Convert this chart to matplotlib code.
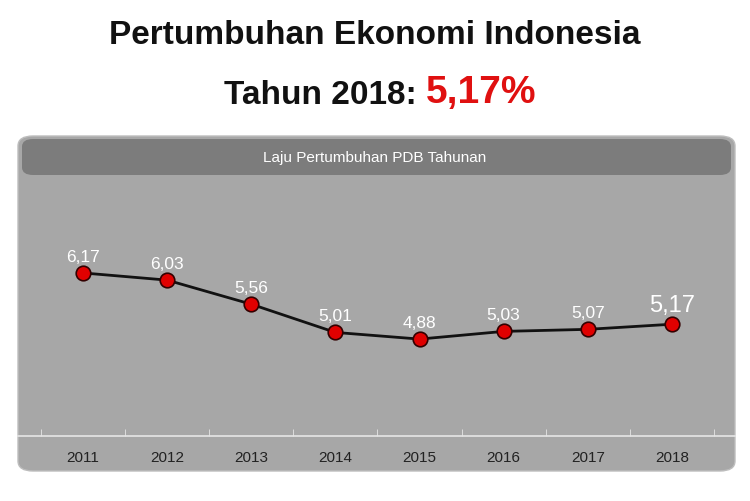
import matplotlib
matplotlib.use("Agg")
import matplotlib.pyplot as plt
from matplotlib.patches import FancyBboxPatch

years = [2011, 2012, 2013, 2014, 2015, 2016, 2017, 2018]
growth = [6.17, 6.03, 5.56, 5.01, 4.88, 5.03, 5.07, 5.17]
labels = ["6,17", "6,03", "5,56", "5,01", "4,88", "5,03", "5,07", "5,17"]

plt.rcParams['font.family'] = ['Liberation Sans', 'DejaVu Sans']
W, H = 750, 502
fig = plt.figure(figsize=(7.5, 5.02), dpi=100)
fig.patch.set_facecolor('white')

def fx(x): return x / W
def fy(y): return 1 - y / H

panel = FancyBboxPatch((fx(18), fy(472)), fx(735) - fx(18), fy(137) - fy(472),
                       boxstyle="round,pad=0,rounding_size=0.02",
                       transform=fig.transFigure, facecolor='#a7a7a7', edgecolor='#bdbdbd',
                       lw=1, zorder=-3)
fig.patches.append(panel)
header = FancyBboxPatch((fx(22), fy(176)), fx(731) - fx(22), fy(140) - fy(176),
                        boxstyle="round,pad=0,rounding_size=0.015",
                        transform=fig.transFigure, facecolor='#7c7c7c', edgecolor='none',
                        zorder=-2)
fig.patches.append(header)
fig.text(0.5, fy(158), "Laju Pertumbuhan PDB Tahunan", ha='center', va='center',
         color='white', fontsize=11)

fig.text(0.5, fy(36), "Pertumbuhan Ekonomi Indonesia", ha='center', va='center',
         fontsize=24, fontweight='bold', color='#111111')
fig.text(0.568, fy(95), "Tahun 2018: ", ha='right', va='center',
         fontsize=24, fontweight='bold', color='#111111')
fig.text(0.568, fy(93), "5,17%", ha='left', va='center',
         fontsize=28, fontweight='bold', color='#e01010')

ax = fig.add_axes([fx(18), fy(437), fx(735) - fx(18), fy(176) - fy(437)])
ax.set_zorder(1)
ax.set_facecolor('none')
ax.set_xlim(2010.227, 2018.75)
ax.set_ylim(2.99, 8.08)
ax.plot(years, growth, color='#111111', lw=2, zorder=2)
ax.scatter(years, growth, s=110, color='#e00000', edgecolor='#330000', lw=1.2, zorder=3)
for x, v, l in zip(years, growth, labels):
    big = (x == 2018)
    ax.text(x, v + (0.33 if not big else 0.38), l, ha='center', va='center',
            color='white', fontsize=17 if big else 12.5)

for s in ['top', 'right', 'left']:
    ax.spines[s].set_visible(False)
ax.spines['bottom'].set_color('#e6e6e6')
ax.spines['bottom'].set_linewidth(1.2)
ax.set_yticks([])
ax.set_xticks(years)
ax.set_xticks([y + 0.5 for y in range(2010, 2019)], minor=True)
ax.tick_params(axis='x', which='major', length=0, pad=10, labelsize=11, labelcolor='#222222')
ax.tick_params(axis='x', which='minor', length=5, color='#e6e6e6', direction='in')
ax.set_xticklabels([str(y) for y in years])

fig.savefig("out.png", dpi=100)
